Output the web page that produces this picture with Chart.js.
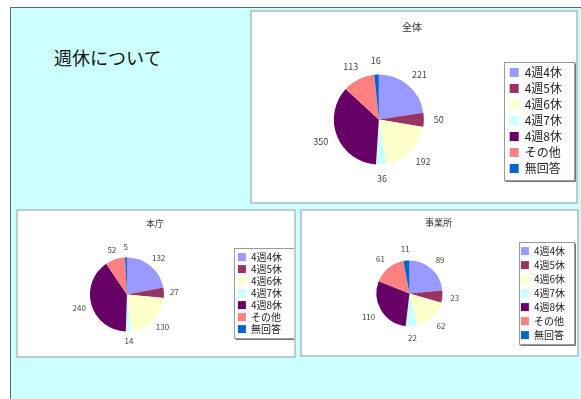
<!DOCTYPE html>
<html lang="ja">
<head>
<meta charset="utf-8">
<script src="https://cdn.jsdelivr.net/npm/chart.js@4.4.0/dist/chart.umd.min.js"></script>
<style>
  body { margin: 0; width: 581px; height: 399px; background: #fff; overflow: hidden;
         font-family: "Noto Sans CJK JP", sans-serif; }
  #sheet { position: absolute; left: 10px; top: 7px; right: 0; bottom: 0; background: #ccffff;
           border-left: 1px solid #4f6d6d; border-top: 1px solid #4f6d6d; }
  #heading { position: absolute; left: 54px; top: 48px; font-size: 18px; line-height: 1; color: #111; }
  .box { position: absolute; background: #fff; border: 2px solid #bccccc; }
  .box canvas { display: block; }
</style>
</head>
<body>
<div id="sheet"></div>
<div id="heading">週休について</div>
<div class="box" style="left:250px;top:10px;"><canvas id="chartAll" width="324" height="190"></canvas></div>
<div class="box" style="left:16px;top:209px;"><canvas id="chartHoncho" width="276" height="145"></canvas></div>
<div class="box" style="left:300px;top:209px;"><canvas id="chartJigyo" width="275" height="144"></canvas></div>

<script>
var categories = ['4週4休', '4週5休', '4週6休', '4週7休', '4週8休', 'その他', '無回答'];
var sliceColors = ['#9999ff', '#993366', '#ffffcc', '#ccffff', '#660066', '#ff8080', '#0066cc'];

var totalValues = [221, 50, 192, 36, 350, 113, 16];
var honchoValues = [132, 27, 130, 14, 240, 52, 5];
var jigyoValues = [89, 23, 62, 22, 110, 61, 11];

// value labels drawn just outside each slice
var outsideLabels = {
    id: 'outsideLabels',
    afterDatasetsDraw: function (chart, args, opts) {
        var ctx = chart.ctx;
        var meta = chart.getDatasetMeta(0);
        var values = chart.data.datasets[0].data;
        ctx.save();
        ctx.font = opts.size + 'px "Noto Sans CJK JP", sans-serif';
        ctx.fillStyle = '#444';
        ctx.textAlign = 'center';
        ctx.textBaseline = 'middle';
        meta.data.forEach(function (arc, i) {
            var p = arc.getProps(['x', 'y', 'startAngle', 'endAngle', 'outerRadius'], true);
            var mid = (p.startAngle + p.endAngle) / 2;
            var text = String(values[i]);
            var w = ctx.measureText(text).width;
            var r = p.outerRadius + opts.gap;
            var x = p.x + Math.cos(mid) * (r + w / 2);
            var y = p.y + Math.sin(mid) * (r + opts.size / 2);
            ctx.fillText(text, x, y);
        });
        ctx.restore();
    }
};

// grey frame round the legend
var legendFrame = {
    id: 'legendFrame',
    afterDraw: function (chart, args, opts) {
        var boxes = chart.legend.legendHitBoxes;
        if (!boxes || !boxes.length) return;
        var minX = Infinity, minY = Infinity, maxX = -Infinity, maxY = -Infinity;
        boxes.forEach(function (b) {
            minX = Math.min(minX, b.left);
            minY = Math.min(minY, b.top);
            maxX = Math.max(maxX, b.left + b.width);
            maxY = Math.max(maxY, b.top + b.height);
        });
        var x0 = Math.round(minX - opts.padL) + 0.5;
        var y0 = Math.round(minY - opts.padY) + 0.5;
        var x1 = Math.round(maxX + opts.padR) + 0.5;
        var y1 = Math.round(maxY + opts.padY) + 0.5;
        var ctx = chart.ctx;
        ctx.save();
        ctx.lineWidth = 1;
        ctx.strokeStyle = '#9a9a9a';
        ctx.strokeRect(x0, y0, x1 - x0, y1 - y0);
        // darker edge on the right and bottom
        ctx.strokeStyle = '#777';
        ctx.beginPath();
        ctx.moveTo(x1 + 1, y0 + 1);
        ctx.lineTo(x1 + 1, y1 + 1);
        ctx.lineTo(x0 + 1, y1 + 1);
        ctx.stroke();
        ctx.restore();
    }
};

function makePie(id, title, values, cfg) {
    return new Chart(document.getElementById(id), {
        type: 'pie',
        data: {
            labels: categories,
            datasets: [{
                data: values,
                backgroundColor: sliceColors,
                borderWidth: 0,
                radius: cfg.radius
            }]
        },
        options: {
            responsive: false,
            animation: false,
            events: [],
            layout: { padding: cfg.padding },
            plugins: {
                title: {
                    display: true,
                    text: title,
                    color: '#333',
                    font: { size: cfg.titleSize, family: '"Noto Sans CJK JP", sans-serif', weight: 'normal' },
                    padding: { top: cfg.titleTop, bottom: 4 }
                },
                legend: {
                    position: 'right',
                    // empty legend title only pushes the items down
                    title: { display: true, text: '', font: { size: 1 }, padding: { top: cfg.legendDrop, bottom: 0 } },
                    labels: {
                        boxWidth: cfg.box,
                        boxHeight: cfg.box,
                        padding: cfg.legendPad,
                        color: '#222',
                        font: { size: cfg.legendSize, lineHeight: 1, family: '"Noto Sans CJK JP", sans-serif' }
                    }
                },
                tooltip: { enabled: false },
                outsideLabels: { size: cfg.labelSize, gap: cfg.gap },
                legendFrame: cfg.frame
            }
        },
        plugins: [outsideLabels, legendFrame]
    });
}

makePie('chartAll', '全体', totalValues, {
    radius: 45, padding: { left: 0, right: 4, top: 0, bottom: 0 },
    titleSize: 10, titleTop: 9, box: 9, legendPad: 4, legendSize: 12, legendDrop: 26,
    labelSize: 9, gap: 10, frame: { padL: 6, padR: 12, padY: 5 }
});
makePie('chartHoncho', '本庁', honchoValues, {
    radius: 37, padding: { left: 0, right: 2, top: 0, bottom: 0 },
    titleSize: 9, titleTop: 7, box: 8, legendPad: 2, legendSize: 10, legendDrop: 18,
    labelSize: 8, gap: 6, frame: { padL: 4, padR: 12, padY: 4 }
});
makePie('chartJigyo', '事業所', jigyoValues, {
    radius: 33, padding: { left: 0, right: 2, top: 0, bottom: 0 },
    titleSize: 9, titleTop: 6, box: 8, legendPad: 4, legendSize: 10, legendDrop: 19,
    labelSize: 8, gap: 8, frame: { padL: 2, padR: 9, padY: 4 }
});
</script>
</body>
</html>
